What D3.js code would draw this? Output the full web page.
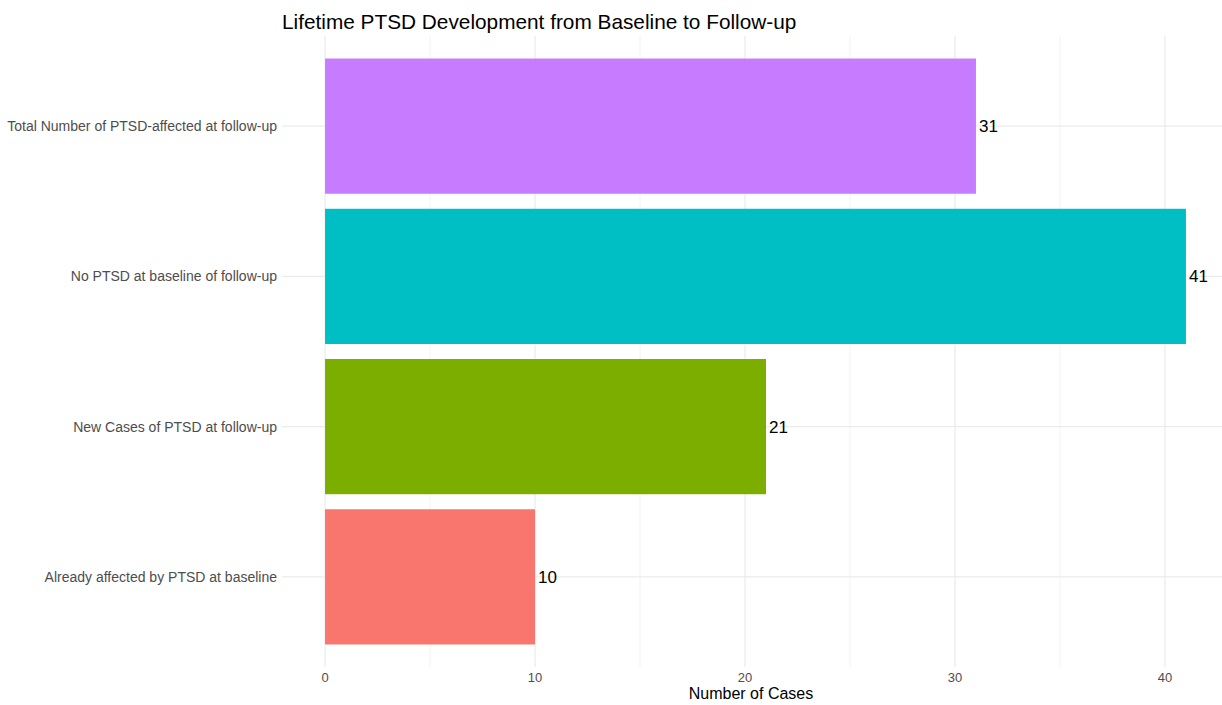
<!DOCTYPE html>
<html>
<head>
<meta charset="utf-8">
<script src="https://cdn.jsdelivr.net/npm/d3@7"></script>
<style>
  body { margin: 0; background: #fff; }
  svg { display: block; font-family: "Liberation Sans", Arial, sans-serif; }
</style>
</head>
<body>
<svg id="chart" width="1222" height="705"></svg>
<script>
// categories from bottom to top
const categories = [
    "Already affected by PTSD at baseline",
    "New Cases of PTSD at follow-up",
    "No PTSD at baseline of follow-up",
    "Total Number of PTSD-affected at follow-up"
];
const counts = [10, 21, 41, 31];
const barColors = ["#F8766D", "#7CAE00", "#00BFC4", "#C77CFF"];
const xTicks = [0, 10, 20, 30, 40];
const xMinor = [5, 15, 25, 35];

const svg = d3.select("#chart");
const panel = { left: 282, right: 1229, top: 36, bottom: 667 };

// ggplot style expansion: 5% continuous, 0.6 units discrete
const maxVal = d3.max(counts);
const x = d3.scaleLinear()
    .domain([-maxVal * 0.05, maxVal * 1.05])
    .range([panel.left, panel.right]);

const unit = (panel.bottom - panel.top) / (categories.length - 1 + 1.2);
const y = d3.scalePoint()
    .domain(categories.slice().reverse())
    .range([panel.top + 0.6 * unit, panel.bottom - 0.6 * unit]);
const barH = unit * 0.9;

// grid
const grid = svg.append("g");
grid.selectAll(".minor")
    .data(xMinor)
    .join("line")
    .attr("x1", d => x(d)).attr("x2", d => x(d))
    .attr("y1", panel.top).attr("y2", panel.bottom)
    .attr("stroke", "#f2f2f2").attr("stroke-width", 1);
grid.selectAll(".major")
    .data(xTicks)
    .join("line")
    .attr("x1", d => x(d)).attr("x2", d => x(d))
    .attr("y1", panel.top).attr("y2", panel.bottom)
    .attr("stroke", "#ebebeb").attr("stroke-width", 1.2);
grid.selectAll(".hmajor")
    .data(categories)
    .join("line")
    .attr("x1", panel.left).attr("x2", panel.right)
    .attr("y1", d => y(d)).attr("y2", d => y(d))
    .attr("stroke", "#ebebeb").attr("stroke-width", 1.2);

// bars
svg.append("g")
    .selectAll("rect")
    .data(categories)
    .join("rect")
    .attr("x", x(0))
    .attr("y", d => y(d) - barH / 2)
    .attr("width", (d, i) => x(counts[i]) - x(0))
    .attr("height", barH)
    .attr("fill", (d, i) => barColors[i]);

// value labels
svg.append("g")
    .selectAll("text")
    .data(categories)
    .join("text")
    .attr("x", (d, i) => x(counts[i]) + 3)
    .attr("y", d => y(d))
    .attr("dy", "0.35em")
    .attr("font-size", 17)
    .attr("fill", "#000")
    .text((d, i) => counts[i]);

// y tick labels
svg.append("g")
    .selectAll("text")
    .data(categories)
    .join("text")
    .attr("x", panel.left - 5)
    .attr("y", d => y(d))
    .attr("dy", "0.35em")
    .attr("text-anchor", "end")
    .attr("font-size", 14)
    .attr("fill", "#4d4d4d")
    .text(d => d);

// x tick labels
svg.append("g")
    .selectAll("text")
    .data(xTicks)
    .join("text")
    .attr("x", d => x(d))
    .attr("y", 682)
    .attr("text-anchor", "middle")
    .attr("font-size", 13)
    .attr("fill", "#4d4d4d")
    .text(d => d);

// axis title
svg.append("text")
    .attr("x", 751)
    .attr("y", 699)
    .attr("text-anchor", "middle")
    .attr("font-size", 16)
    .attr("fill", "#000")
    .text("Number of Cases");

// chart title
svg.append("text")
    .attr("x", panel.left)
    .attr("y", 29)
    .attr("font-size", 20.8)
    .attr("fill", "#000")
    .text("Lifetime PTSD Development from Baseline to Follow-up");
</script>
</body>
</html>
